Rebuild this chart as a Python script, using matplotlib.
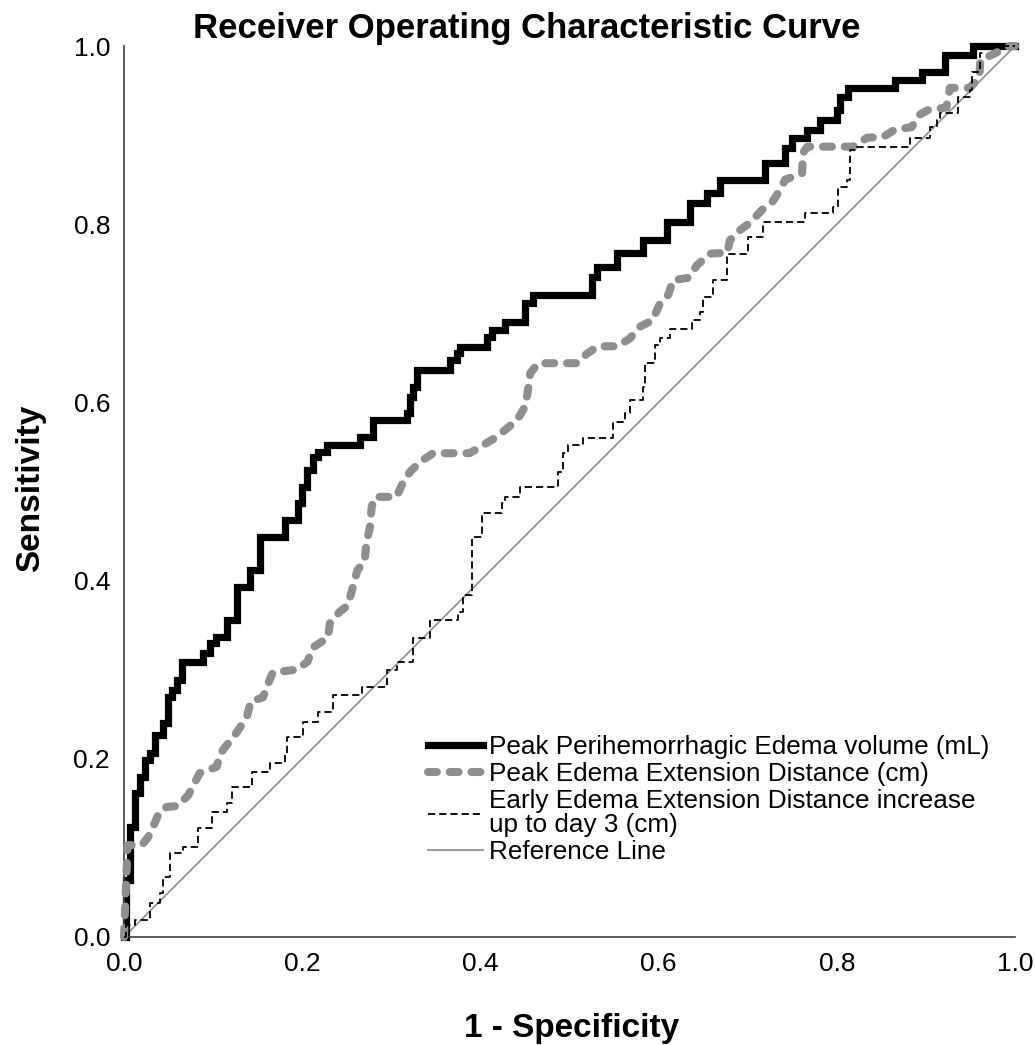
import matplotlib
matplotlib.use("Agg")
import matplotlib.pyplot as plt

plt.rcParams['font.family'] = ['Liberation Sans', 'DejaVu Sans']

# Peak perihemorrhagic edema volume: (1 - specificity, sensitivity) at each rise
phe_fpr = [0.000, 0.002, 0.007, 0.012, 0.018, 0.024, 0.029, 0.035, 0.044, 0.049,
           0.054, 0.059, 0.065, 0.089, 0.097, 0.103, 0.116, 0.127, 0.141, 0.153,
           0.181, 0.195, 0.200, 0.205, 0.212, 0.218, 0.228, 0.265, 0.279, 0.318,
           0.321, 0.324, 0.329, 0.366, 0.374, 0.377, 0.407, 0.413, 0.428, 0.450,
           0.459, 0.525, 0.531, 0.553, 0.582, 0.609, 0.635, 0.654, 0.669, 0.719,
           0.742, 0.750, 0.767, 0.781, 0.800, 0.804, 0.813, 0.865, 0.896, 0.921,
           0.953, 1.000]
phe_tpr = [0.000, 0.064, 0.123, 0.162, 0.180, 0.199, 0.207, 0.227, 0.240, 0.269,
           0.277, 0.288, 0.309, 0.319, 0.330, 0.337, 0.356, 0.393, 0.412, 0.449,
           0.468, 0.487, 0.505, 0.524, 0.539, 0.544, 0.552, 0.561, 0.580, 0.588,
           0.606, 0.617, 0.636, 0.648, 0.655, 0.662, 0.673, 0.681, 0.690, 0.712,
           0.721, 0.741, 0.752, 0.768, 0.782, 0.802, 0.824, 0.835, 0.850, 0.869,
           0.886, 0.897, 0.906, 0.917, 0.928, 0.943, 0.953, 0.962, 0.971, 0.990,
           1.000, 1.000]

# Peak edema extension distance
eed_fpr = [0.000, 0.004, 0.020, 0.027, 0.035, 0.040, 0.048, 0.060, 0.072, 0.085,
           0.104, 0.108, 0.126, 0.138, 0.142, 0.156, 0.162, 0.167, 0.194, 0.206,
           0.212, 0.229, 0.231, 0.242, 0.251, 0.257, 0.262, 0.270, 0.272, 0.276,
           0.278, 0.282, 0.306, 0.313, 0.321, 0.332, 0.347, 0.388, 0.403, 0.418,
           0.430, 0.441, 0.450, 0.453, 0.456, 0.465, 0.508, 0.520, 0.532, 0.554,
           0.568, 0.579, 0.593, 0.602, 0.611, 0.616, 0.634, 0.643, 0.658, 0.677,
           0.680, 0.691, 0.703, 0.716, 0.727, 0.736, 0.742, 0.761, 0.762, 0.767,
           0.818, 0.834, 0.852, 0.865, 0.884, 0.893, 0.902, 0.923, 0.927, 0.949,
           0.960, 0.961, 0.978, 0.994, 1.000]
eed_tpr = [0.000, 0.103, 0.103, 0.112, 0.129, 0.141, 0.146, 0.147, 0.159, 0.184,
           0.191, 0.206, 0.229, 0.247, 0.264, 0.269, 0.285, 0.297, 0.300, 0.309,
           0.325, 0.336, 0.352, 0.365, 0.372, 0.393, 0.412, 0.421, 0.442, 0.460,
           0.483, 0.494, 0.494, 0.510, 0.522, 0.533, 0.543, 0.543, 0.552, 0.561,
           0.571, 0.580, 0.595, 0.611, 0.633, 0.644, 0.644, 0.655, 0.663, 0.663,
           0.672, 0.685, 0.692, 0.712, 0.721, 0.737, 0.740, 0.754, 0.767, 0.768,
           0.782, 0.793, 0.802, 0.816, 0.824, 0.838, 0.850, 0.857, 0.880, 0.887,
           0.887, 0.897, 0.898, 0.906, 0.909, 0.923, 0.928, 0.931, 0.953, 0.953,
           0.964, 0.984, 0.992, 1.000, 1.000]

# Early edema extension distance increase up to day 3
early_fpr = [0.000, 0.002, 0.012, 0.029, 0.040, 0.044, 0.052, 0.066, 0.083, 0.099,
             0.116, 0.121, 0.144, 0.164, 0.181, 0.183, 0.201, 0.218, 0.235, 0.267,
             0.295, 0.306, 0.324, 0.343, 0.375, 0.380, 0.391, 0.402, 0.424, 0.428,
             0.444, 0.487, 0.493, 0.498, 0.515, 0.549, 0.562, 0.568, 0.582, 0.585,
             0.596, 0.602, 0.613, 0.637, 0.646, 0.650, 0.661, 0.677, 0.700, 0.717,
             0.764, 0.796, 0.801, 0.811, 0.815, 0.823, 0.882, 0.905, 0.912, 0.916,
             0.936, 0.949, 0.952, 0.961, 0.964, 1.000]
early_tpr = [0.000, 0.013, 0.019, 0.038, 0.049, 0.067, 0.094, 0.101, 0.122, 0.140,
             0.150, 0.168, 0.185, 0.195, 0.206, 0.224, 0.241, 0.253, 0.272, 0.281,
             0.300, 0.309, 0.336, 0.356, 0.365, 0.384, 0.449, 0.476, 0.487, 0.494,
             0.505, 0.522, 0.543, 0.552, 0.560, 0.578, 0.588, 0.603, 0.617, 0.644,
             0.664, 0.672, 0.682, 0.692, 0.701, 0.718, 0.737, 0.767, 0.786, 0.802,
             0.813, 0.819, 0.842, 0.850, 0.883, 0.887, 0.897, 0.909, 0.917, 0.925,
             0.943, 0.951, 0.971, 0.992, 1.000, 1.000]

ref_x = [0.0, 1.0]
ref_y = [0.0, 1.0]

labels = ["Peak Perihemorrhagic Edema volume (mL)",
          "Peak Edema Extension Distance (cm)",
          "Early Edema Extension Distance increase\nup to day 3 (cm)",
          "Reference Line"]

fig = plt.figure(figsize=(10.35, 10.45), dpi=100, facecolor='white')
ax = fig.add_axes([124 / 1035, 108 / 1045, 891 / 1035, 891 / 1045])

ref, = ax.plot(ref_x, ref_y, color='#959595', lw=1.3, zorder=1, clip_on=False)
l1, = ax.plot(phe_fpr, phe_tpr, color='black', lw=5.2, drawstyle='steps-post',
              solid_joinstyle='miter', zorder=2, clip_on=False)
l2, = ax.plot(eed_fpr, eed_tpr, color='#8f8f8f', lw=5.8, dash_capstyle='round',
              dashes=(1.1, 1.6), zorder=3, clip_on=False)
l3, = ax.plot(early_fpr, early_tpr, color='black', lw=1.3, drawstyle='steps-post',
              dashes=(4, 2.2), zorder=4, clip_on=False)

ax.set_xlim(0, 1)
ax.set_ylim(0, 1)
ax.set_xticks([0.0, 0.2, 0.4, 0.6, 0.8, 1.0])
ax.set_yticks([0.0, 0.2, 0.4, 0.6, 0.8, 1.0])
ax.set_xticklabels(['0.0', '0.2', '0.4', '0.6', '0.8', '1.0'])
ax.set_yticklabels(['0.0', '0.2', '0.4', '0.6', '0.8', '1.0'])
ax.tick_params(length=0, labelsize=19, colors='black')
ax.tick_params(axis='x', pad=11)
ax.tick_params(axis='y', pad=10)
for s in ['top', 'right']:
    ax.spines[s].set_visible(False)
for s in ['left', 'bottom']:
    ax.spines[s].set_color('#404040')
    ax.spines[s].set_linewidth(1.2)

fig.text(527 / 1035, 1 - 38 / 1045, "Receiver Operating Characteristic Curve",
         ha='center', va='baseline', fontsize=25, fontweight='bold')
fig.text(31 / 1035, 1 - 488 / 1045, "Sensitivity", rotation=90,
         ha='center', va='center', fontsize=24, fontweight='bold')
fig.text(572 / 1035, 1 - 1037 / 1045, "1 - Specificity",
         ha='center', va='baseline', fontsize=24, fontweight='bold')

leg = fig.legend([l1, l2, l3, ref], labels, loc='upper left',
                 bbox_to_anchor=(428 / 1035, 1 - 735 / 1045), frameon=False,
                 fontsize=18.8, handlelength=2.1, handletextpad=0.25,
                 labelspacing=0.12, borderpad=0, borderaxespad=0)
for t in leg.get_texts():
    t.set_linespacing(1.0)

fig.savefig("out.png", dpi=100, facecolor='white')
